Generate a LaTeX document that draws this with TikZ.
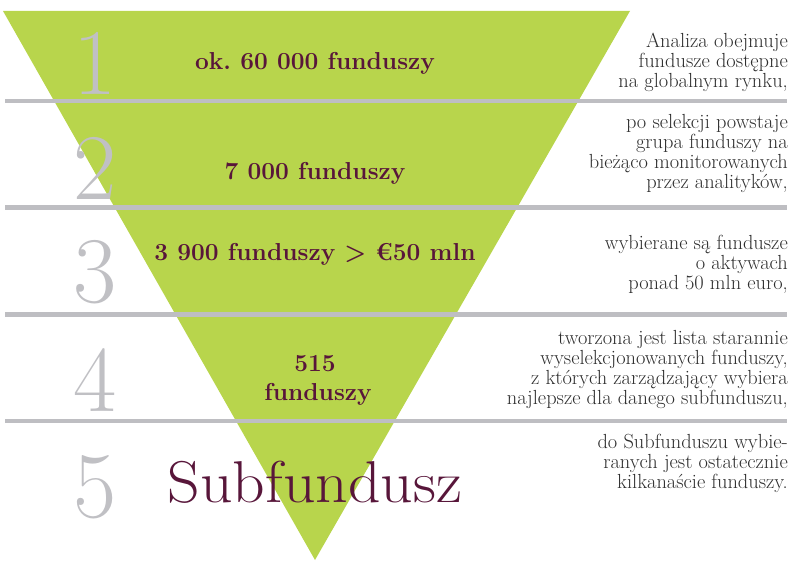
\documentclass[tikz,border=0pt]{standalone}
\usepackage{graphicx}
\definecolor{funnelgreen}{RGB}{184,213,76}
\definecolor{rulegrey}{RGB}{190,190,194}
\definecolor{numgrey}{RGB}{192,192,196}
\definecolor{plum}{RGB}{88,22,58}
\definecolor{bodytext}{RGB}{45,45,45}
\begin{document}
\frenchspacing
\begin{tikzpicture}[x=1pt,y=-1pt,
  rulebar/.style={rulegrey,line width=4.7pt},
  bignum/.style={numgrey,font=\fontsize{94}{94}\selectfont,anchor=base,inner sep=0pt},
  label/.style={plum,font=\fontsize{24.5}{28}\bfseries\selectfont,anchor=base,inner sep=0pt,align=center},
  note/.style={bodytext,font=\fontsize{20.4}{20}\selectfont,anchor=north east,inner sep=0pt,align=right}]
\useasboundingbox (0,0) rectangle (793,561);
% funnel
\coordinate (tl) at (3,11);
\coordinate (tr) at (630,11);
\coordinate (apex) at (315,560);
\fill[funnelgreen] (tl) -- (tr) -- (apex) -- cycle;
% rules
\coordinate (r1a) at (5,101); \coordinate (r1b) at (787,101);
\coordinate (r2a) at (5,207.5); \coordinate (r2b) at (787,207.5);
\coordinate (r3a) at (5,314.5); \coordinate (r3b) at (787,314.5);
\coordinate (r4a) at (5,421); \coordinate (r4b) at (787,421);
\draw[rulebar] (r1a) -- (r1b);
\draw[rulebar] (r2a) -- (r2b);
\draw[rulebar] (r3a) -- (r3b);
\draw[rulebar] (r4a) -- (r4b);
% numbers
\node[bignum] (n1) at (95,95) {1};
\node[bignum] (n2) at (95,200) {2};
\node[bignum] (n3) at (95,303) {3};
\node[bignum] (n4) at (95,412) {4};
\node[bignum] (n5) at (95,517) {5};
% labels
\node[label] (l1) at (315,70) {ok. 60 000 funduszy};
\node[label] (l2) at (315,180) {7 000 funduszy};
\node[label] (l3) at (315,261) {3 900 funduszy > €50 mln};
\node[label] (l4a) at (315,372) {515};
\node[label] (l4b) at (318,400) {funduszy};
\node[plum,font=\fontsize{59}{60}\selectfont,anchor=base,inner sep=0pt] (l5) at (315,502) {\scalebox{1.08}[1]{Subfundusz}};
% notes
\node[note] (t1) at (788,33) {Analiza obejmuje\\fundusze dostępne\\na globalnym rynku,};
\node[note] (t2) at (788,114) {po selekcji powstaje\\grupa funduszy na\\bieżąco monitorowanych\\przez analityków,};
\node[note] (t3) at (788,235) {wybierane są fundusze\\o aktywach\\ponad 50 mln euro,};
\node[note] (t4) at (788,330) {tworzona jest lista starannie\\wyselekcjonowanych funduszy,\\z których zarządzający wybiera\\najlepsze dla danego subfunduszu,};
\node[note] (t5) at (788,434) {do Subfunduszu wybie-\\ranych jest ostatecznie\\kilkanaście funduszy.};
\end{tikzpicture}
\end{document}
